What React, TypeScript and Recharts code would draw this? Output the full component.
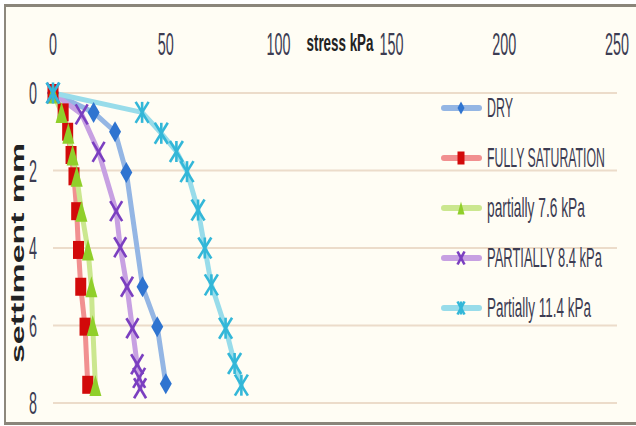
import React, { useLayoutEffect, useRef, useState } from 'react'
import { LineChart, Line, XAxis, YAxis, CartesianGrid } from 'recharts'

const stressTicks = [0, 50, 100, 150, 200, 250]
const settlementTicks = [0, 2, 4, 6, 8]

const dryStress = [0, 18, 27.5, 32.5, 39.7, 46.2, 50]
const drySettlement = [0, 0.5, 1.0, 2.05, 5.0, 6.03, 7.5]

const satStress = [0, 4.5, 6.5, 8, 9.3, 10.5, 11.3, 12.3, 14.2, 15.4]
const satSettlement = [0, 0.5, 1.0, 1.6, 2.15, 3.05, 4.05, 5.0, 6.03, 7.53]

const p76Stress = [0, 3.8, 6.8, 8.7, 10.5, 12.6, 15.5, 17.0, 17.6, 18.8]
const p76Settlement = [0, 0.5, 1.04, 1.6, 2.15, 3.05, 4.05, 5.0, 6.0, 7.55]

const p84Stress = [0, 12.7, 20.2, 28.0, 29.8, 32.8, 35.2, 37.3, 38.2, 38.6]
const p84Settlement = [0, 0.55, 1.52, 3.05, 3.98, 5.0, 6.07, 7.0, 7.35, 7.62]

const p114Stress = [0, 39.5, 48, 54.7, 59.4, 64.3, 67.3, 70.2, 76.5, 80.5, 83.5]
const p114Settlement = [0, 0.5, 1.04, 1.51, 2.03, 3.02, 4.0, 4.95, 6.07, 6.98, 7.54]

const toPoints = (xs: number[], ys: number[]) => xs.map((x, i) => ({ stress: x, settlement: ys[i] }))

type Shape = 'diamond' | 'square' | 'triangle' | 'cross' | 'star'

const series: { name: string; data: { stress: number; settlement: number }[]; line: string; mark: string; shape: Shape; textW: number }[] = [
  { name: 'DRY', data: toPoints(dryStress, drySettlement), line: '#94b6e4', mark: '#2f74d0', shape: 'diamond', textW: 26 },
  { name: 'FULLY SATURATION', data: toPoints(satStress, satSettlement), line: '#f19090', mark: '#d20a0a', shape: 'square', textW: 118 },
  { name: 'partially 7.6 kPa', data: toPoints(p76Stress, p76Settlement), line: '#cbe78f', mark: '#90cf2a', shape: 'triangle', textW: 98 },
  { name: 'PARTIALLY 8.4 kPa', data: toPoints(p84Stress, p84Settlement), line: '#c7a0e2', mark: '#7b3fc0', shape: 'cross', textW: 115 },
  { name: 'Partially 11.4 kPa', data: toPoints(p114Stress, p114Settlement), line: '#98dcea', mark: '#33b7d8', shape: 'star', textW: 104 },
]

const TEXT = '#3c3c52'
const FONT = 'Liberation Sans, Arial, sans-serif'

// text squeezed to a given width, like the stretched original picture
function StretchText({ x, y, w, size, anchor = 'start', bold, fill = TEXT, rotate, children }: any) {
  const ref = useRef<SVGTextElement>(null)
  const [sx, setSx] = useState(1)
  useLayoutEffect(() => {
    const len = ref.current ? ref.current.getComputedTextLength() : 0
    if (len > 0) setSx(w / len)
  }, [w, children])
  return (
    <g transform={`translate(${x} ${y})${rotate ? ' rotate(-90)' : ''} scale(${sx} 1)`}>
      <text ref={ref} x={0} y={0} textAnchor={anchor} fontSize={size} fontWeight={bold ? 'bold' : 'normal'} fontFamily={FONT} fill={fill}>
        {children}
      </text>
    </g>
  )
}

function Marker({ cx, cy, shape, color, w, h }: { cx: number; cy: number; shape: Shape; color: string; w: number; h: number }) {
  const hw = w / 2
  const hh = h / 2
  if (shape === 'diamond')
    return <polygon points={`${cx},${cy - hh} ${cx + hw},${cy} ${cx},${cy + hh} ${cx - hw},${cy}`} fill={color} />
  if (shape === 'square') return <rect x={cx - hw} y={cy - hh} width={w} height={h} fill={color} />
  if (shape === 'triangle')
    return <polygon points={`${cx},${cy - hh} ${cx + hw},${cy + hh} ${cx - hw},${cy + hh}`} fill={color} />
  return (
    <g stroke={color} strokeWidth={2.6}>
      <line x1={cx - hw} y1={cy - hh} x2={cx + hw} y2={cy + hh} />
      <line x1={cx - hw} y1={cy + hh} x2={cx + hw} y2={cy - hh} />
      {shape === 'star' && <line x1={cx} y1={cy - hh} x2={cx} y2={cy + hh} />}
    </g>
  )
}

const markSize: Record<Shape, [number, number]> = {
  diamond: [12, 21],
  square: [11, 18],
  triangle: [12, 21],
  cross: [12, 20],
  star: [13, 21],
}

const makeDot = (shape: Shape, color: string) => (p: any) => {
  if (p.cx == null || p.cy == null) return <g key={p.index} />
  const [w, h] = markSize[shape]
  return <Marker key={p.index} cx={p.cx} cy={p.cy} shape={shape} color={color} w={w} h={h} />
}

function XTick({ x, payload }: any) {
  const s = String(payload.value)
  return (
    <StretchText x={x} y={55} w={s.length * 8} size={31} anchor="middle">
      {s}
    </StretchText>
  )
}

function YTick({ y, payload }: any) {
  const s = String(payload.value)
  return (
    <StretchText x={33} y={y + 11} w={s.length * 8} size={31} anchor="middle">
      {s}
    </StretchText>
  )
}

function XTitle({ viewBox }: any) {
  const cx = viewBox.x + viewBox.width / 2 + 5
  return (
    <StretchText x={cx} y={viewBox.y - 12} w={67} size={24} bold anchor="middle" fill="#222">
      stress kPa
    </StretchText>
  )
}

function YTitle({ viewBox }: any) {
  const cy = viewBox.y + viewBox.height / 2 + 5
  return (
    <StretchText x={24} y={cy} w={220} size={19} bold anchor="middle" fill="#222" rotate>
      settlment mm
    </StretchText>
  )
}

function LegendBox() {
  return (
    <svg width={200} height={270} style={{ position: 'absolute', left: 436, top: 84 }}>
      {series.map((s, i) => {
        const y = 24 + i * 50
        return (
          <g key={s.name}>
            <line x1={8} x2={43} y1={y} y2={y} stroke={s.line} strokeWidth={6} strokeLinecap="round" />
            <Marker cx={25} cy={y} shape={s.shape} color={s.mark} w={7} h={13} />
            <StretchText x={51} y={y + 9} w={s.textW} size={28}>
              {s.name}
            </StretchText>
          </g>
        )
      })}
    </svg>
  )
}

export default function App() {
  return (
    <div style={{ position: 'fixed', left: 0, top: 0, width: 636, height: 426, background: '#fff', overflow: 'hidden' }}>
      <div
        style={{
          position: 'absolute',
          left: 4,
          top: 4,
          width: 650,
          height: 415,
          background: '#fffdf4',
          borderLeft: '2px solid #8d887d',
          borderTop: '3px solid #8a857a',
          borderBottom: '3px solid #8a857a',
        }}
      />
      <div style={{ position: 'absolute', left: 0, top: 0 }}>
        <LineChart width={636} height={426} margin={{ top: 63, right: 19, bottom: 23, left: 23 }}>
          <CartesianGrid
            stroke="#ecdcca"
            strokeWidth={2}
            verticalCoordinatesGenerator={({ xAxis }: any) => {
              const sc = xAxis?.scale
              return typeof sc === 'function' ? stressTicks.filter((t) => t > 0).map((t) => sc(t)) : []
            }}
          />
          <XAxis
            type="number"
            dataKey="stress"
            orientation="top"
            domain={[0, 250]}
            ticks={stressTicks}
            height={30}
            axisLine={false}
            tickLine={false}
            tick={<XTick />}
            label={<XTitle />}
            allowDuplicatedCategory={false}
          />
          <YAxis
            type="number"
            dataKey="settlement"
            reversed
            domain={[0, 8]}
            ticks={settlementTicks}
            width={30}
            axisLine={false}
            tickLine={false}
            tick={<YTick />}
            label={<YTitle />}
          />
          {series.map((s) => (
            <Line
              key={s.name}
              data={s.data}
              dataKey="settlement"
              name={s.name}
              type="linear"
              stroke={s.line}
              strokeWidth={5}
              strokeLinecap="round"
              strokeLinejoin="round"
              dot={makeDot(s.shape, s.mark)}
              activeDot={false}
              isAnimationActive={false}
            />
          ))}
        </LineChart>
      </div>
      <LegendBox />
    </div>
  )
}
